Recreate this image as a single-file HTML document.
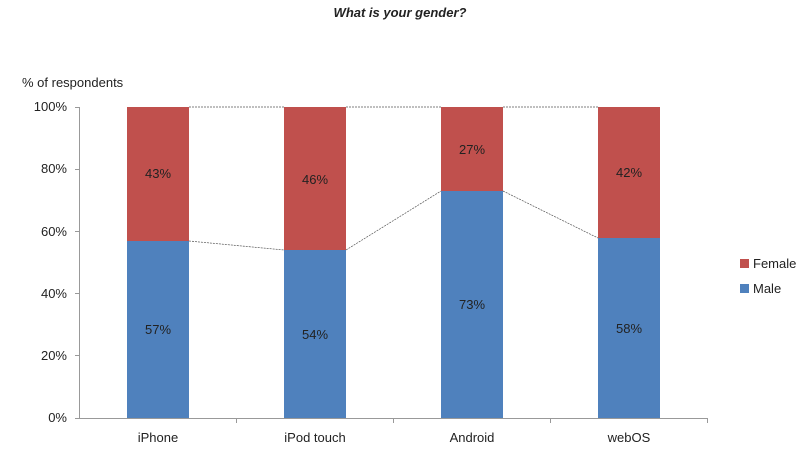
<!DOCTYPE html><html><head><style>body{margin:0;background:#fff}svg{display:block}text{font-family:"Liberation Sans",sans-serif;font-size:13px;fill:#222}</style></head><body>
<svg width="800" height="462" xmlns="http://www.w3.org/2000/svg">
<text x="400" y="17" text-anchor="middle" style="font-weight:bold;font-style:italic;font-size:13px">What is your gender?</text>
<text x="22" y="87">% of respondents</text>
<g text-anchor="end">
<text x="67" y="422">0%</text><text x="67" y="360">20%</text><text x="67" y="298">40%</text><text x="67" y="236">60%</text><text x="67" y="173">80%</text><text x="67" y="111">100%</text></g>
<g stroke="#999" stroke-width="1">
<line x1="79.5" y1="107" x2="79.5" y2="418"/>
<line x1="75" y1="107.5" x2="79" y2="107.5"/><line x1="75" y1="169.5" x2="79" y2="169.5"/><line x1="75" y1="231.5" x2="79" y2="231.5"/><line x1="75" y1="293.5" x2="79" y2="293.5"/><line x1="75" y1="355.5" x2="79" y2="355.5"/><line x1="75" y1="418.5" x2="79" y2="418.5"/>
<line x1="79" y1="418.5" x2="707" y2="418.5"/>
<line x1="236.5" y1="418" x2="236.5" y2="423"/><line x1="393.5" y1="418" x2="393.5" y2="423"/><line x1="550.5" y1="418" x2="550.5" y2="423"/><line x1="707.5" y1="418" x2="707.5" y2="423"/>
</g>
<g stroke="#555" stroke-width="0.7" stroke-dasharray="2,1" fill="none">
<polyline points="189,107 284,107"/><polyline points="346,107 441,107"/><polyline points="503,107 598,107"/>
<polyline points="189,241 284,250"/><polyline points="346,250 441,191"/><polyline points="503,191 598,238"/>
</g>
<g fill="#c0504d">
<rect x="127" y="107" width="62" height="134"/><rect x="284" y="107" width="62" height="143"/><rect x="441" y="107" width="62" height="84"/><rect x="598" y="107" width="62" height="131"/></g>
<g fill="#4f81bd">
<rect x="127" y="241" width="62" height="177"/><rect x="284" y="250" width="62" height="168"/><rect x="441" y="191" width="62" height="227"/><rect x="598" y="238" width="62" height="180"/></g>
<g text-anchor="middle">
<text x="158" y="178">43%</text><text x="315" y="184">46%</text><text x="472" y="154">27%</text><text x="629" y="177">42%</text>
<text x="158" y="334">57%</text><text x="315" y="339">54%</text><text x="472" y="309">73%</text><text x="629" y="333">58%</text>
<text x="158" y="442">iPhone</text><text x="315" y="442">iPod touch</text><text x="472" y="442">Android</text><text x="629" y="442">webOS</text></g>
<rect x="740" y="259" width="9" height="9" fill="#c0504d"/><text x="753" y="268">Female</text>
<rect x="740" y="284" width="9" height="9" fill="#4f81bd"/><text x="753" y="293">Male</text>
</svg></body></html>
